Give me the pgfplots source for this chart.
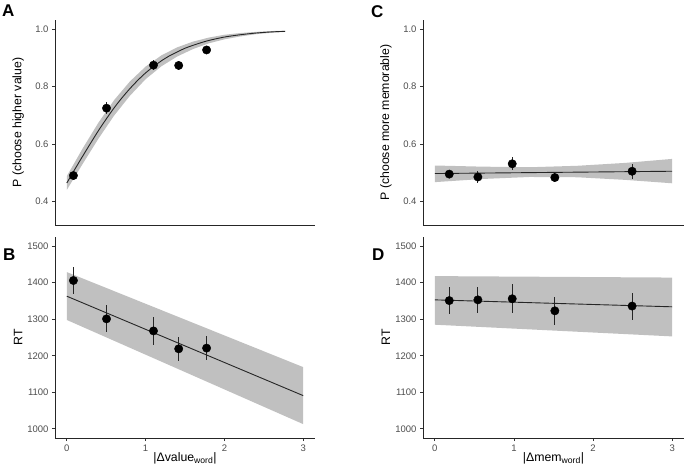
\documentclass[border=0pt]{standalone}
\usepackage{pgfplots}
\pgfplotsset{compat=1.18}
\usepackage{fontspec}
\setmainfont{Liberation Sans}

\definecolor{ribbon}{RGB}{192,192,192}
\definecolor{ticktxt}{RGB}{77,77,77}

\pgfplotsset{
  panel/.style={
    scale only axis, anchor=south west,
    axis lines=left, axis line style={-, line width=0.9pt, color=black!85},
    tick align=outside, major tick length=3pt,
    tick style={line width=0.8pt, color=black!80},
    xmin=-0.15, xmax=3.15,
    tick label style={font=\fontsize{9.5}{10}\selectfont, text=ticktxt},
    label style={font=\fontsize{12.3}{13}\selectfont},
    /pgf/number format/assume math mode=true,
    ylabel style={at={(axis description cs:-0.142,0.5)}, anchor=center},
    clip=false,
  },
  toprow/.style={panel, height=205pt, xtick=\empty,
    ymin=0.3175, ymax=1.0325, ytick={0.4,0.6,0.8,1.0},
    yticklabel style={/pgf/number format/.cd, fixed, fixed zerofill, precision=1}},
  botrow/.style={panel, height=201pt, xtick={0,1,2,3},
    ymin=975, ymax=1525, ytick={1000,1100,1200,1300,1400,1500},
    yticklabel style={/pgf/number format/1000 sep={}},
    xlabel style={at={(axis description cs:0.5,-0.1)}, anchor=center}},
  pts/.style={only marks, mark=*, mark size=4.2pt, color=black,
    error bars/.cd, y dir=both, y explicit, error mark=none,
    error bar style={line width=1.2pt, color=black!85}},
  fit/.style={no marks, line width=0.9pt, color=black!85},
}

\begin{document}
\begin{tikzpicture}
\useasboundingbox (0,0) rectangle (685pt,469pt);

% A
\begin{axis}[toprow, at={(55pt,244pt)}, width=260pt, ylabel={P (choose higher value)}]
  \addplot[fill=ribbon, draw=none] coordinates {
    (0,0.488) (0.2,0.584) (0.4,0.674) (0.6,0.753) (0.8,0.818) (1.0,0.870) (1.2,0.909)
    (1.4,0.937) (1.6,0.957) (1.8,0.971) (2.0,0.981) (2.2,0.987) (2.4,0.991) (2.6,0.994) (2.77,0.995)
    (2.77,0.991) (2.6,0.988) (2.4,0.983) (2.2,0.975) (2.0,0.965) (1.8,0.951) (1.6,0.931)
    (1.4,0.905) (1.2,0.871) (1.0,0.826) (0.8,0.768) (0.6,0.699) (0.4,0.618) (0.2,0.530) (0,0.440)};
  \addplot[fit, smooth] coordinates {
    (0,0.464) (0.1,0.511) (0.2,0.557) (0.3,0.602) (0.4,0.646) (0.5,0.687) (0.6,0.726)
    (0.7,0.761) (0.8,0.793) (0.9,0.822) (1.0,0.848) (1.1,0.870) (1.2,0.890) (1.3,0.907)
    (1.4,0.921) (1.5,0.934) (1.6,0.944) (1.7,0.953) (1.8,0.961) (2.0,0.973) (2.2,0.981)
    (2.4,0.987) (2.6,0.991) (2.77,0.993)};
  \addplot[pts] coordinates {
    (0.084,0.490) +- (0,0.015)
    (0.504,0.725) +- (0,0.022)
    (1.10,0.875) +- (0,0.018)
    (1.42,0.874) +- (0,0.015)
    (1.774,0.928) +- (0,0.013)};
\end{axis}

% B
\begin{axis}[botrow, at={(55pt,31pt)}, width=260pt, ylabel={RT},
  xlabel={|Δvalue\textsubscript{word}|}]
  \addplot[fill=ribbon, draw=none] coordinates {(0,1429) (3,1169) (3,1013) (0,1298)};
  \addplot[fit] coordinates {(0,1363) (3,1091)};
  \addplot[pts] coordinates {
    (0.084,1406) +- (0,37)
    (0.504,1301) +- (0,37)
    (1.10,1268) +- (0,38)
    (1.42,1219) +- (0,33)
    (1.774,1221) +- (0,33)};
\end{axis}

% C
\begin{axis}[toprow, at={(423pt,244pt)}, width=261pt, ylabel={P (choose more memorable)}]
  \addplot[fill=ribbon, draw=none] coordinates {
    (0,0.525) (0.6,0.521) (1.2,0.519) (1.8,0.524) (2.4,0.534) (3,0.548)
    (3,0.463) (2.4,0.475) (1.8,0.484) (1.2,0.485) (0.6,0.478) (0,0.467)};
  \addplot[fit] coordinates {(0,0.497) (3,0.505)};
  \addplot[pts] coordinates {
    (0.182,0.495) +- (0,0.012)
    (0.544,0.485) +- (0,0.022)
    (0.978,0.531) +- (0,0.022)
    (1.517,0.483) +- (0,0.015)
    (2.494,0.505) +- (0,0.026)};
\end{axis}

% D
\begin{axis}[botrow, at={(423pt,31pt)}, width=261pt, ylabel={RT},
  xlabel={|Δmem\textsubscript{word}|}]
  \addplot[fill=ribbon, draw=none] coordinates {(0,1418) (3,1414) (3,1253) (0,1285)};
  \addplot[fit] coordinates {(0,1353) (3,1334)};
  \addplot[pts] coordinates {
    (0.182,1351) +- (0,36)
    (0.544,1353) +- (0,35)
    (0.978,1356) +- (0,40)
    (1.517,1323) +- (0,38)
    (2.494,1336) +- (0,37)};
\end{axis}

% panel letters
\node[font=\fontsize{17}{17}\selectfont\bfseries, anchor=north west, inner sep=0pt] at (2pt,464pt) {A};
\node[font=\fontsize{17}{17}\selectfont\bfseries, anchor=north west, inner sep=0pt] at (3pt,220pt) {B};
\node[font=\fontsize{17}{17}\selectfont\bfseries, anchor=north west, inner sep=0pt] at (371pt,464pt) {C};
\node[font=\fontsize{17}{17}\selectfont\bfseries, anchor=north west, inner sep=0pt] at (372pt,220pt) {D};
\end{tikzpicture}
\end{document}
